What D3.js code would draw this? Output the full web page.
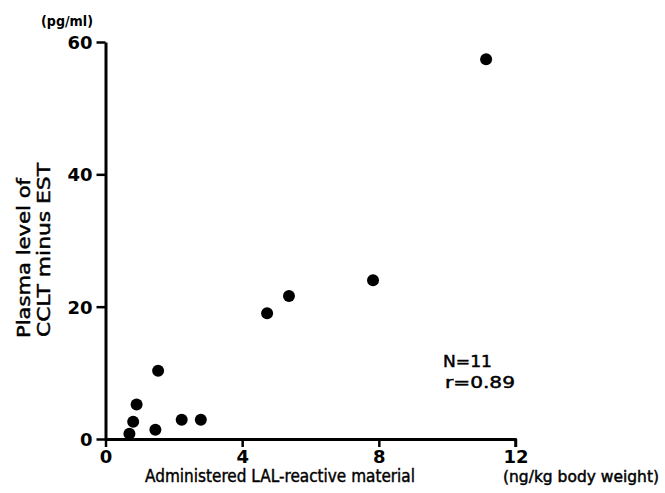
<!DOCTYPE html>
<html>
<head>
<meta charset="utf-8">
<script src="https://cdn.jsdelivr.net/npm/d3@7"></script>
<style>
  body { margin: 0; background: #fff; }
  svg { font-family: "DejaVu Sans", "Liberation Sans", Arial, sans-serif; }
  .heavy { stroke: #000; stroke-width: 0.45px; }
</style>
</head>
<body>
<div id="chart"></div>
<script>
// data
var doseValues = [0.70, 0.81, 0.91, 1.46, 1.54, 2.23, 2.79, 4.73, 5.37, 7.83, 11.14];
var plasmaValues = [0.8, 2.6, 5.2, 1.4, 10.3, 2.9, 2.9, 19.0, 21.6, 24.0, 57.4];
var xTicks = [0, 4, 8, 12];
var yTicks = [0, 20, 40, 60];

var width = 665, height = 493;

var svg = d3.select("#chart").append("svg")
    .attr("width", width)
    .attr("height", height);

var x = d3.scaleLinear().domain([0, 12]).range([105.5, 515.5]);
var y = d3.scaleLinear().domain([0, 60]).range([439, 42]);

// x axis
var xAxis = svg.append("g")
    .attr("transform", "translate(0," + y(0) + ")")
    .call(d3.axisBottom(x).tickValues(xTicks).tickSize(8).tickSizeOuter(0).tickFormat(d3.format("d")));

// y axis
var yAxis = svg.append("g")
    .attr("transform", "translate(" + x(0) + ",0)")
    .call(d3.axisLeft(y).tickValues(yTicks).tickSize(9).tickSizeOuter(0).tickFormat(d3.format("d")));

[xAxis, yAxis].forEach(function(g) {
  g.select(".domain").attr("stroke", "#000").attr("stroke-width", 3);
  g.selectAll(".tick line").attr("stroke", "#000").attr("stroke-width", 2.5);
  g.selectAll(".tick text")
      .attr("fill", "#000")
      .style("font-family", "'DejaVu Sans', sans-serif")
      .style("font-size", "18px")
      .style("font-weight", "bold");
});
yAxis.selectAll(".tick text").attr("dx", "-1px").attr("dy", "0.36em");

// hook at the far end of the x axis
svg.append("line")
    .attr("x1", x(12)).attr("x2", x(12))
    .attr("y1", y(0) - 1).attr("y2", y(0) + 8)
    .attr("stroke", "#000").attr("stroke-width", 2.5);

// points
svg.append("g").selectAll("circle")
    .data(doseValues)
    .enter()
    .append("circle")
    .attr("cx", function(d) { return x(d); })
    .attr("cy", function(d, i) { return y(plasmaValues[i]); })
    .attr("r", 6)
    .attr("fill", "#000");

// units
svg.append("text").text("(pg/ml)")
    .attr("x", 41).attr("y", 26)
    .attr("textLength", 52).attr("lengthAdjust", "spacingAndGlyphs")
    .style("font-size", "14px")
    .style("font-weight", "bold");

svg.append("text").text("(ng/kg body weight)")
    .attr("class", "heavy")
    .attr("x", 503).attr("y", 482)
    .attr("textLength", 156).attr("lengthAdjust", "spacingAndGlyphs")
    .style("font-size", "15px");

// axis titles
svg.append("text").text("Administered LAL-reactive material")
    .attr("class", "heavy")
    .attr("x", 145).attr("y", 482)
    .attr("textLength", 270).attr("lengthAdjust", "spacingAndGlyphs")
    .style("font-size", "17px");

var yTitle = svg.append("text")
    .attr("class", "heavy")
    .attr("transform", "rotate(-90)")
    .style("font-size", "17px");
yTitle.append("tspan").text("Plasma level of")
    .attr("x", -338).attr("y", 30)
    .attr("textLength", 160).attr("lengthAdjust", "spacingAndGlyphs");
yTitle.append("tspan").text("CCLT minus EST")
    .attr("x", -337).attr("y", 50)
    .attr("textLength", 174).attr("lengthAdjust", "spacingAndGlyphs");

// stats
svg.append("text").text("N=11")
    .attr("class", "heavy")
    .attr("x", 443).attr("y", 367)
    .attr("textLength", 49).attr("lengthAdjust", "spacingAndGlyphs")
    .style("font-size", "15px");
svg.append("text").text("r=0.89")
    .attr("class", "heavy")
    .attr("x", 445).attr("y", 388)
    .attr("textLength", 70).attr("lengthAdjust", "spacingAndGlyphs")
    .style("font-size", "15px");
</script>
</body>
</html>
